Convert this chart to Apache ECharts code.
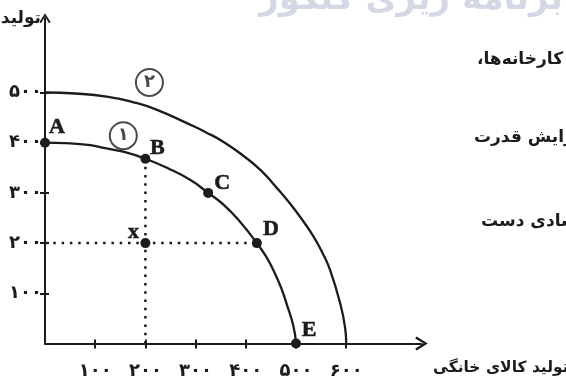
<!DOCTYPE html>
<html>
<head>
<meta charset="utf-8">
<script src="https://cdn.jsdelivr.net/npm/echarts@6/dist/echarts.min.js"></script>
<style>
  html, body { margin: 0; padding: 0; background: #fff; }
  #chart { width: 566px; height: 380px; }
</style>
</head>
<body>
<div id="chart"></div>
<script>
// frontier (2), the outer one
const outerX = [0, 60, 123, 175, 222, 289, 320, 355, 395, 430, 460, 488, 512, 535, 553, 568, 588, 598, 600]
const outerY = [500, 498, 492, 481, 466, 436, 421, 402, 374, 345, 312, 279, 247, 213, 180, 146, 80, 30, 0]
// frontier (1), the inner one
const innerX = [0, 40, 90, 120, 156, 200, 245, 289, 325, 355, 388, 422, 440, 455, 470, 481, 495, 500]
const innerY = [400, 399, 395, 389, 382, 368, 349, 326, 300, 277, 243, 200, 174, 146, 112, 80, 34, 0]

// named points
const pointNames = ['A', 'B', 'C', 'D', 'E', 'x']
const pointX = [0, 200, 325, 422, 500, 200]
const pointY = [400, 368, 300, 200, 0, 200]

// circled curve numbers
const curveTags = ['۱', '۲']
const tagX = [156, 208]
const tagY = [414, 520]

const xTicks = [100, 200, 300, 400, 500, 600]
const xTickLabels = ['۱۰۰', '۲۰۰', '۳۰۰', '۴۰۰', '۵۰۰', '۶۰۰']
const yTicks = [100, 200, 300, 400, 500]
const yTickLabels = ['۱۰۰', '۲۰۰', '۳۰۰', '۴۰۰', '۵۰۰']

const ink = '#1f1b1c'
const faFont = '"DejaVu Sans"'
const RLM = '\u200F'
// open chevron arrow head, pointing up before ECharts rotates it
const chevron = 'path://M5,0 L10,8 L8.6,9 L5,3 L1.4,9 L0,8 Z'

const labelOffsets = {
  A: [12, -15], B: [12, -10], C: [14, -10], D: [14, -14], E: [13, -13], x: [-12, -11]
}

const pairs = (xs, ys) => xs.map((x, i) => [x, ys[i]])

const guideV = [[pointX[1], 0], [pointX[1], pointY[1]]]
const guideH = [[0, pointY[3]], [pointX[3], pointY[3]]]

const chart = echarts.init(document.getElementById('chart'))

const tickLabel = { fontFamily: faFont, fontSize: 18, fontWeight: 'bold', color: ink }

const faText = (x, y, text, align, size) => ({
  type: 'text', x: x, y: y, silent: true,
  style: { text: text, font: 'bold ' + size + 'px ' + faFont, fill: ink, textAlign: align, textVerticalAlign: 'middle' }
})

const option = {
  animation: false,
  grid: { left: 45, top: 18.2, width: 376.5, height: 325.3, outerBoundsMode: 'none' },
  xAxis: [
    {
      type: 'value', min: 0, max: 750, interval: 100, position: 'bottom',
      axisLine: { show: true, lineStyle: { color: ink, width: 2 }, symbol: ['none', chevron], symbolSize: [14, 13] },
      axisTick: { show: true, length: 5, lineStyle: { color: ink, width: 2 }, customValues: xTicks },
      axisLabel: Object.assign({
        customValues: xTicks, margin: 19,
        formatter: (v) => xTickLabels[xTicks.indexOf(v)] || ''
      }, tickLabel),
      splitLine: { show: false }
    },
    {
      type: 'value', min: 0, max: 750, interval: 100, position: 'bottom',
      axisLine: { show: false },
      axisTick: { show: true, inside: true, length: 4, lineStyle: { color: ink, width: 2 }, customValues: xTicks },
      axisLabel: { show: false },
      splitLine: { show: false }
    }
  ],
  yAxis: [
    {
      type: 'value', min: 0, max: 648, interval: 100, position: 'left',
      axisLine: { show: true, lineStyle: { color: ink, width: 2 }, symbol: ['none', chevron], symbolSize: [12, 10] },
      axisTick: { show: true, length: 5, lineStyle: { color: ink, width: 2 }, customValues: yTicks },
      axisLabel: Object.assign({
        customValues: yTicks, margin: 3,
        formatter: (v) => yTickLabels[yTicks.indexOf(v)] || ''
      }, tickLabel),
      splitLine: { show: false }
    },
    {
      type: 'value', min: 0, max: 648, interval: 100, position: 'left',
      axisLine: { show: false },
      axisTick: { show: true, inside: true, length: 4, lineStyle: { color: ink, width: 2 }, customValues: yTicks },
      axisLabel: { show: false },
      splitLine: { show: false }
    }
  ],
  graphic: [
    {
      type: 'text', x: 563, y: 0, silent: true,
      style: { text: 'برنامه ریزی کنکور', font: 'bold 34px ' + faFont, fill: '#d3d8e4', textAlign: 'right', textVerticalAlign: 'middle' }
    },
    faText(41, 19, 'تولید کالای سرمایه‌ای', 'right', 17),
    faText(433, 368, 'تولید کالای خانگی', 'left', 15.5),
    faText(477, 60, 'کارخانه‌ها،' + RLM, 'left', 17),
    faText(474, 138, 'افزایش قدرت', 'left', 17),
    faText(481, 222, 'اقتصادی دست', 'left', 17)
  ],
  series: [
    {
      name: 'frontier 2', type: 'line', data: pairs(outerX, outerY), smooth: 0.5,
      symbol: 'none', lineStyle: { color: ink, width: 2.3 }, z: 2
    },
    {
      name: 'frontier 1', type: 'line', data: pairs(innerX, innerY), smooth: 0.5,
      symbol: 'none', lineStyle: { color: ink, width: 2.3 }, z: 2
    },
    {
      name: 'guide B', type: 'line', data: guideV, symbol: 'none',
      lineStyle: { color: ink, width: 2.5, type: [2.5, 5.8] }, z: 1
    },
    {
      name: 'guide D', type: 'line', data: guideH, symbol: 'none',
      lineStyle: { color: ink, width: 2.5, type: [2.5, 5.8] }, z: 1
    },
    {
      name: 'tags', type: 'scatter', symbolSize: 27,
      data: curveTags.map((t, i) => ({ name: t, value: [tagX[i], tagY[i]] })),
      itemStyle: { color: '#fff', borderColor: ink, borderWidth: 2 },
      label: { show: true, position: 'inside', formatter: '{b}', fontFamily: faFont, fontSize: 18, fontWeight: 'bold', color: ink },
      z: 4
    },
    {
      name: 'points', type: 'scatter', symbolSize: 10,
      data: pointNames.map((n, i) => ({
        name: n, value: [pointX[i], pointY[i]], label: { offset: labelOffsets[n] }
      })),
      itemStyle: { color: ink, opacity: 1 },
      label: {
        show: true, position: 'inside', formatter: '{b}',
        fontFamily: '"Liberation Serif"', fontSize: 22, fontWeight: 'bold', color: ink,
        textBorderColor: ink, textBorderWidth: 0.6
      },
      z: 5
    }
  ]
}

chart.setOption(option)
</script>
</body>
</html>
